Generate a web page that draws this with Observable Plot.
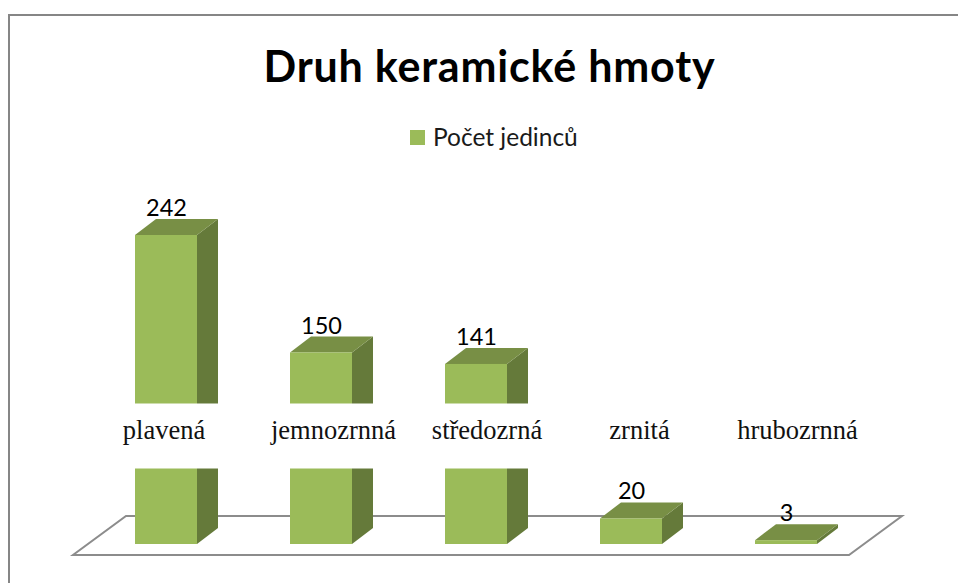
<!DOCTYPE html>
<html lang="cs">
<head>
<meta charset="utf-8">
<script src="https://cdn.jsdelivr.net/npm/d3@7"></script>
<script src="https://cdn.jsdelivr.net/npm/@observablehq/plot@0.6"></script>
<style>
html,body{margin:0;padding:0;background:#fff;overflow:hidden}
#page{position:relative;width:958px;height:583px;overflow:hidden}
#frame{position:absolute;left:8px;top:14px;width:960px;height:590px;border:2px solid #868686;box-sizing:border-box;z-index:2;pointer-events:none}
#title{position:absolute;left:0;top:36px;width:979px;text-align:center;font:700 43px/60px Lato,sans-serif;letter-spacing:.8px;color:#000}
#legend{position:absolute;left:410px;top:122px;display:flex;align-items:center;font:24.5px/30px Lato,sans-serif;color:#1a1a1a}
#legend i{display:block;width:15px;height:15px;background:#9BBB59;margin-right:8px;margin-top:1px}
#chart{position:absolute;left:0;top:160px}
</style>
</head>
<body>
<div id="page">
<div id="frame"></div>
<div id="title"></div>
<div id="legend"><i></i><span id="series"></span></div>
<div id="chart"></div>
</div>
<script>
const chartTitle = "Druh keramické hmoty";
const seriesName = "Počet jedinců";
const categories = ["plavená", "jemnozrnná", "středozrná", "zrnitá", "hrubozrnná"];
const counts = [242, 150, 141, 20, 3];

document.getElementById("title").textContent = chartTitle;
document.getElementById("series").textContent = seriesName;

const rows = categories.map((c, i) => ({category: c, count: counts[i]}));
const depthX = 21, depthY = 16;
const labelNudge = [-2.5, 12, 10.5, 8, 11];
const svgNS = "http://www.w3.org/2000/svg";

// draws the 3D side and top faces behind each front face, from the scaled band geometry
function prism(index, scales, values, dimensions, context, next) {
  const g = next(index, scales, values, dimensions, context);
  const faces = document.createElementNS(svgNS, "g");
  const bw = scales.x.bandwidth();
  for (const i of index) {
    const x0 = scales.x(rows[i].category), x1 = x0 + bw;
    const y0 = scales.y(rows[i].count), y1 = scales.y(0);
    const side = document.createElementNS(svgNS, "polygon");
    side.setAttribute("points", `${x1},${y0} ${x1+depthX},${y0-depthY} ${x1+depthX},${y1-depthY} ${x1},${y1}`);
    side.setAttribute("fill", "#657A3A");
    const top = document.createElementNS(svgNS, "polygon");
    top.setAttribute("points", `${x0},${y0} ${x0+depthX},${y0-depthY} ${x1+depthX},${y0-depthY} ${x1},${y0}`);
    top.setAttribute("fill", "#788F45");
    faces.append(side, top);
  }
  g.insertBefore(faces, g.firstChild);
  return g;
}

// perspective floor under the bars, placed relative to the first band and the zero line
function floor(index, scales) {
  const left = scales.x(categories[0]) - 62, span = 776, skew = 53;
  const front = scales.y(0) + 11, back = scales.y(0) - 28;
  const p = document.createElementNS(svgNS, "polygon");
  p.setAttribute("points", `${left},${front} ${left+span},${front} ${left+span+skew},${back} ${left+skew},${back}`);
  p.setAttribute("fill", "#fff");
  p.setAttribute("stroke", "#8C8C8C");
  p.setAttribute("stroke-width", 2);
  return p;
}

const plot = Plot.plot({
  width: 958,
  height: 423,
  margin: 0,
  style: {background: "transparent", overflow: "visible"},
  x: {type: "band", domain: categories, range: [88, 864.2], paddingInner: 0.6, paddingOuter: 0.3, axis: null},
  y: {domain: [0, 242], range: [384, 75], axis: null},
  marks: [
    floor,
    Plot.rectY(rows, {x: "category", y: "count", fill: "#9BBB59", render: prism}),
    Plot.ruleY([85], {stroke: "#fff", strokeWidth: 65}),
    ...categories.map((c, i) => Plot.text([c], {x: d => d, y: 89, text: d => d, dx: labelNudge[i], fontFamily: "Liberation Serif", fontSize: 26.5, fill: "#111"})),
    Plot.text(rows, {x: "category", y: "count", text: d => String(d.count), dy: -27, fontFamily: "Lato", fontSize: 23.5, fill: "#000"})
  ]
});
document.getElementById("chart").append(plot);
</script>
</body>
</html>
